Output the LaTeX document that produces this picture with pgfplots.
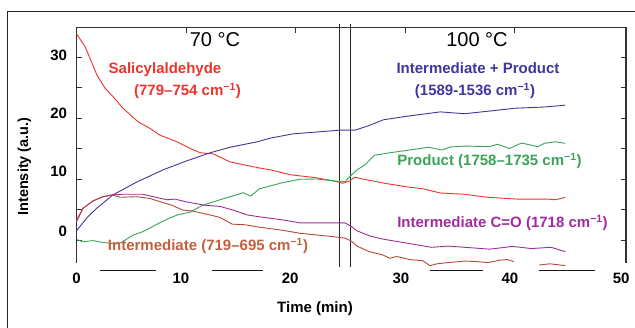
\documentclass[border=0pt]{standalone}
\usepackage{fontspec}
\setmainfont{Liberation Sans}
\usepackage{pgfplots}
\pgfplotsset{compat=1.18}
\definecolor{cred}{RGB}{236,52,46}
\definecolor{cblue}{RGB}{64,54,160}
\definecolor{cgreen}{RGB}{55,165,85}
\definecolor{cmag}{RGB}{160,45,155}
\definecolor{cbrown}{RGB}{180,72,58}
\definecolor{cbrownlab}{RGB}{196,96,62}
\begin{document}
\begin{tikzpicture}[x=1pt,y=1pt]
\draw[line width=0.9pt, black!85] (7,-5)--(7,316)--(640,316);
\begin{axis}[
  at={(76.5pt,64.3pt)}, anchor=south west,
  scale only axis, width=549.5pt, height=235pt,
  xmin=0, xmax=50.14, ymin=-3.72, ymax=34.8,
  axis line style={draw=none},
  clip=false,
  xtick={10,20,30,40}, xticklabels={}, xtick pos=upper, xticklabel pos=lower,
  ytick={0,5,...,30}, yticklabels={}, ytick pos=both, yticklabel pos=left,
  tick align=inside, major tick length=5pt,
  tick style={line width=0.9pt, black!80},
  extra x ticks={0,9.53,19.5,29.6,39.55,49.7},
  extra x tick labels={0,10,20,30,40,50},
  extra y ticks={1.5,11.2,20.8,30.2},
  extra y tick labels={0,10,20,30},
  extra tick style={major tick length=0pt},
  /pgf/number format/assume math mode=true,
  ticklabel style={font=\bfseries\fontsize{15}{18}\selectfont},
  xticklabel style={yshift=-7pt},
  yticklabel style={xshift=-6pt},
  every axis plot/.append style={line width=0.9pt},
]
\draw[line width=1.2pt, black!80] (rel axis cs:0,0)--(rel axis cs:0,1)--(rel axis cs:1,1)--(rel axis cs:1,0);
\draw[line width=0.8pt, black!85] (axis cs:24.0,-4.4)--(axis cs:24.0,35.4);
\draw[line width=0.8pt, black!85] (axis cs:24.95,-4.4)--(axis cs:24.95,35.4);
\draw[line width=1pt, black!90] (axis cs:2.14,-5.08)--(axis cs:7.25,-5.08);
\draw[line width=1pt, black!90] (axis cs:12.36,-5.08)--(axis cs:17.0,-5.08);
\draw[line width=1pt, black!90] (axis cs:32.25,-5.08)--(axis cs:37.1,-5.08);
\draw[line width=1pt, black!90] (axis cs:42.2,-5.08)--(axis cs:47.3,-5.08);

% Salicylaldehyde
\addplot[cred] coordinates {(0,33.8)(0.78,31.7)(1.23,29.8)(1.87,27.0)(2.6,24.9)(3.33,23.5)(4.24,21.6)(5.6,19.4)(6.7,18.3)(7.6,17.2)(9.17,16.1)(10.5,14.9)(11.3,14.3)(12.5,14.1)(14.0,12.8)(16.7,11.8)(17.7,11.5)(19.5,10.7)(21.9,10.2)(23.4,9.7)(24.3,9.3)(24.95,9.7)(25.4,10.3)(26.1,10.0)(28.1,9.3)(30.2,8.7)(31.6,8.4)(33.2,7.7)(35.4,7.5)(37.5,7.0)(40.3,6.7)(43.0,6.7)(43.7,6.6)(44.6,7.0)};
% Intermediate + Product
\addplot[cblue] coordinates {(0,1.5)(0.93,3.6)(1.84,5.2)(3.33,7.4)(5.5,9.5)(7.9,11.5)(10.1,13.0)(12.2,14.3)(14.0,15.2)(16.5,16.1)(17.7,16.7)(19.75,17.4)(21.9,17.7)(24.0,18.0)(25.4,18.0)(26.6,18.7)(28.0,19.7)(30.2,20.3)(33.2,21.0)(35.4,20.7)(37.5,21.1)(40.0,21.6)(42.7,21.8)(44.6,22.1)};
% Product
\addplot[cgreen] coordinates {(0,0.1)(0.6,-0.3)(1.5,-0.1)(2.4,-0.4)(3.7,-0.65)(4.2,-0.3)(5.15,0.8)(6.1,1.4)(7.35,2.6)(8.5,3.6)(9.2,4.1)(10.4,4.6)(11.5,5.7)(13.1,6.6)(14.6,7.4)(15.2,7.75)(15.9,7.2)(16.7,8.4)(17.65,8.85)(18.8,9.4)(20.4,9.95)(21.9,10.0)(23.4,9.7)(24.5,9.55)(24.95,10.4)(25.6,11.5)(26.3,12.3)(27.2,13.9)(28.6,14.3)(30.4,14.75)(32.1,15.2)(33.35,14.75)(34.1,15.25)(35.45,15.4)(37.7,15.3)(38.4,15.7)(39.5,15.0)(40.6,15.9)(42.1,15.3)(42.7,15.85)(43.7,16.1)(44.6,15.85)};
% Intermediate C=O
\addplot[cmag] coordinates {(0,3.0)(0.6,5.2)(1.5,6.4)(2.4,7.1)(3.33,7.4)(4.24,7.5)(6.07,7.5)(7.0,7.1)(8.26,6.6)(9.0,6.7)(9.9,6.3)(11.7,5.7)(13.1,5.5)(14.3,4.9)(15.6,4.1)(16.7,3.8)(18.8,3.3)(20.4,2.8)(24.5,2.8)(25.1,2.2)(25.6,1.5)(26.8,0.65)(27.95,0.15)(30.1,-0.5)(32.4,-1.2)(33.9,-1.0)(35.45,-1.2)(37.7,-1.5)(39.8,-1.05)(41.5,-1.4)(43.3,-1.2)(44.6,-1.9)};
% Intermediate 719-695
\addplot[cbrown] coordinates {(0,3.3)(0.6,5.2)(1.5,6.4)(2.4,7.1)(3.24,7.4)(3.97,7.0)(5.5,7.1)(6.7,6.8)(7.6,6.3)(8.7,5.7)(9.7,4.9)(10.6,4.75)(12.2,4.1)(13.1,3.7)(14.2,2.6)(15.4,2.5)(16.7,2.1)(18.8,1.6)(20.4,1.1)(23.4,0.55)(24.5,0.3)(25.05,-0.15)(25.6,-1.0)(26.7,-1.9)(27.95,-2.45)(28.6,-3.0)(29.2,-2.7)(30.4,-3.2)(31.6,-3.4)(32.25,-4.2)(32.9,-3.9)(33.9,-3.7)(35.45,-3.45)(36.6,-3.55)(37.55,-3.7)(38.65,-3.3)(39.3,-3.2)(39.9,-3.55)};
\addplot[cbrown] coordinates {(42.2,-4.1)(43.2,-3.9)(44.6,-4.2)};
\end{axis}

\node[font=\fontsize{20}{24}\selectfont] at (215,287.5) {70 °C};
\node[font=\fontsize{20}{24}\selectfont] at (477,287.5) {100 °C};
\node[font=\bfseries\fontsize{15}{18}\selectfont, text=cred, anchor=base] at (165,253.5) {Salicylaldehyde};
\node[font=\bfseries\fontsize{15}{18}\selectfont, text=cred, anchor=base] at (187.5,231) {(779–754 cm\textsuperscript{−1})};
\node[font=\bfseries\fontsize{15}{18}\selectfont, text=cblue, anchor=base] at (478,253.5) {Intermediate + Product};
\node[font=\bfseries\fontsize{15}{18}\selectfont, text=cblue, anchor=base] at (475,231) {(1589-1536 cm\textsuperscript{−1})};
\node[font=\bfseries\fontsize{15}{18}\selectfont, text=cgreen, anchor=base] at (489.5,161.5) {Product (1758–1735 cm\textsuperscript{−1})};
\node[font=\bfseries\fontsize{15}{18}\selectfont, text=cmag, anchor=base] at (502.5,99.5) {Intermediate C=O (1718 cm\textsuperscript{−1})};
\node[font=\bfseries\fontsize{15}{18}\selectfont, text=cbrownlab, anchor=base] at (208,76.5) {Intermediate (719–695 cm\textsuperscript{−1})};
\node[font=\bfseries\fontsize{15}{18}\selectfont, anchor=base] at (315,14.5) {Time (min)};
\node[font=\bfseries\fontsize{14.5}{18}\selectfont, rotate=90] at (24.5,160.5) {Intensity (a.u.)};

\pgfresetboundingbox
\useasboundingbox (0,0) rectangle (635,327);
\end{tikzpicture}
\end{document}
